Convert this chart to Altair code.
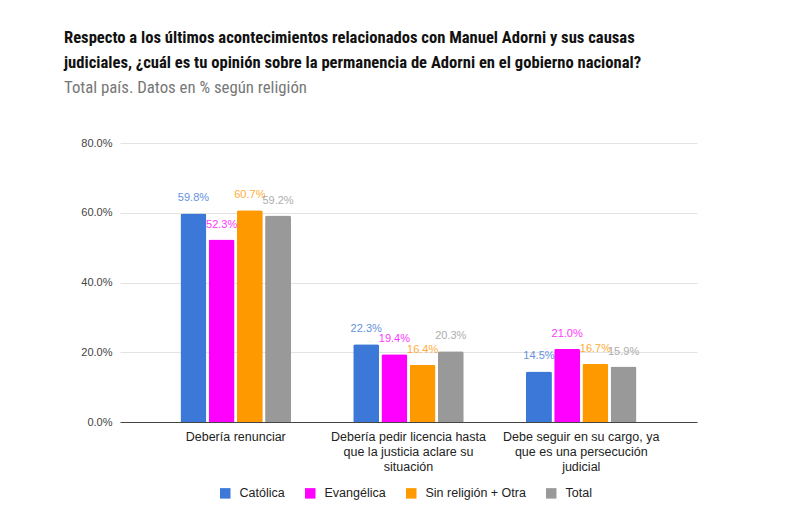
import altair as alt
import pandas as pd

# Answer options (x axis) and the wrapped lines shown under each
categories = [
    "Debería renunciar",
    "Debería pedir licencia hasta que la justicia aclare su situación",
    "Debe seguir en su cargo, ya que es una persecución judicial",
]
category_lines = [
    ["Debería renunciar"],
    ["Debería pedir licencia hasta", "que la justicia aclare su", "situación"],
    ["Debe seguir en su cargo, ya", "que es una persecución", "judicial"],
]

# Religion groups and their colours
series = ["Católica", "Evangélica", "Sin religión + Otra", "Total"]
colors = ["#3c78d8", "#ff00ff", "#ff9900", "#999999"]

# Percentages per group, one value per answer option
catolica = [59.8, 22.3, 14.5]
evangelica = [52.3, 19.4, 21.0]
sin_religion = [60.7, 16.4, 16.7]
total = [59.2, 20.3, 15.9]

values_by_series = [catolica, evangelica, sin_religion, total]
rows = []
for name, vals in zip(series, values_by_series):
    for cat, v in zip(categories, vals):
        rows.append({"categoria": cat, "grupo": name, "valor": v})
df = pd.DataFrame(rows)

# Multi-line x labels via a ternary chain
def js_list(items):
    return "[" + ",".join("'" + s + "'" for s in items) + "]"

label_expr = "datum.label"
for cat, lines in reversed(list(zip(categories, category_lines))):
    label_expr = f"datum.label == '{cat}' ? {js_list(lines)} : ({label_expr})"

FONT = "Liberation Sans"
TITLE_FONT = "Roboto Condensed, Liberation Sans Narrow, Roboto"

x = alt.X(
    "categoria:N",
    sort=categories,
    title=None,
    scale=alt.Scale(paddingInner=0.36, paddingOuter=0.35),
    axis=alt.Axis(
        labelExpr=label_expr,
        labelAngle=0,
        labelFontSize=12.5,
        labelColor="#222222",
        labelFont=FONT,
        labelLineHeight=15,
        labelPadding=8,
        labelBaseline="top",
        ticks=False,
        grid=False,
        domainColor="#444444",
        domainWidth=1,
        labelLimit=300,
    ),
)
x_off = alt.XOffset("grupo:N", sort=series, scale=alt.Scale(paddingInner=0.08))
color = alt.Color(
    "grupo:N",
    sort=series,
    scale=alt.Scale(domain=series, range=colors),
    legend=alt.Legend(
        title=None,
        orient="none",
        legendX=99,
        legendY=344,
        direction="horizontal",
        symbolType="square",
        symbolSize=110,
        symbolStrokeWidth=0,
        labelFontSize=12.5,
        labelFont=FONT,
        labelColor="#222222",
        columnPadding=19,
        labelOffset=8,
    ),
)

y = alt.Y(
    "valor:Q",
    title=None,
    scale=alt.Scale(domain=[0, 80]),
    axis=alt.Axis(
        values=[0, 20, 40, 60, 80],
        labelExpr="format(datum.value, '.1f') + '%'",
        labelFontSize=11,
        labelFont=FONT,
        labelColor="#444444",
        labelPadding=8,
        ticks=False,
        domain=False,
        gridColor="#e3e3e3",
    ),
)

bars = alt.Chart(df).mark_bar(cornerRadiusTopLeft=2, cornerRadiusTopRight=2).encode(
    x=x, xOffset=x_off, y=y, color=color
)

labels = (
    alt.Chart(df)
    .transform_calculate(etiqueta="format(datum.valor, '.1f') + '%'")
    .mark_text(dy=-10, fontSize=11, font=FONT, baseline="bottom", opacity=0.8)
    .encode(
        x=x,
        xOffset=x_off,
        y=y,
        text="etiqueta:N",
        color=alt.Color("grupo:N", sort=series, scale=alt.Scale(domain=series, range=colors), legend=None),
    )
)

chart = (
    alt.layer(bars, labels)
    .properties(
        width=577,
        height=279,
        view=alt.ViewBackground(stroke="transparent", strokeWidth=0),
        padding={"left": 120, "top": 143, "right": 93, "bottom": 100},
        autosize=alt.AutoSizeParams(type="none"),
        title=alt.TitleParams(
            text=[
                "Respecto a los últimos acontecimientos relacionados con Manuel Adorni y sus causas",
                "judiciales, ¿cuál es tu opinión sobre la permanencia de Adorni en el gobierno nacional?",
            ],
            subtitle="Total país. Datos en % según religión",
            anchor="start",
            frame="group",
            dx=-56,
            offset=40,
            font=TITLE_FONT,
            fontSize=16.6,
            fontWeight="bold",
            color="#111111",
            lineHeight=25,
            subtitleFont=TITLE_FONT,
            subtitleFontSize=16.8,
            subtitleColor="#777777",
            subtitlePadding=9,
        ),
    )
    .configure_view(stroke="transparent", strokeWidth=0)
    .configure_axisX(grid=False)
    .configure(background="white")
)

chart.save("out.html", embed_options={"renderer": "svg", "actions": False})
